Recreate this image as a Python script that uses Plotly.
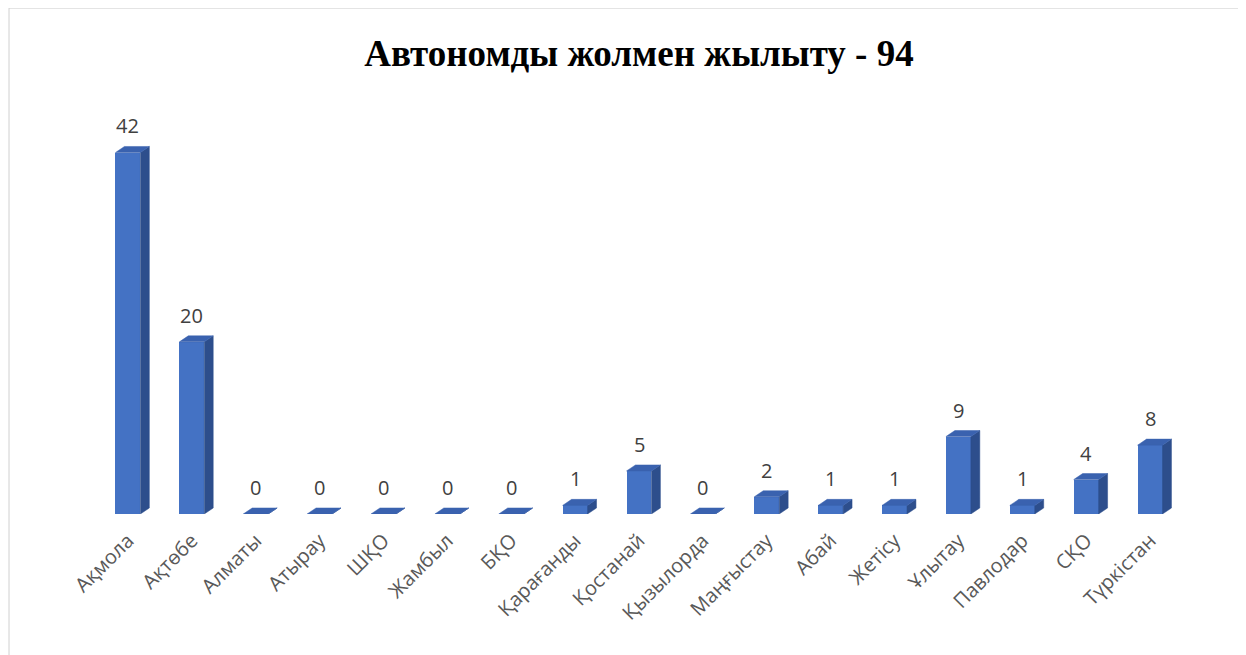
import plotly.graph_objects as go

# ---- data ----
categories = ["Ақмола", "Ақтөбе", "Алматы", "Атырау", "ШҚО", "Жамбыл", "БҚО",
              "Қарағанды", "Қостанай", "Қызылорда", "Маңғыстау", "Абай", "Жетісу",
              "Ұлытау", "Павлодар", "СҚО", "Түркістан"]
values = [42, 20, 0, 0, 0, 0, 0, 1, 5, 0, 2, 1, 1, 9, 1, 4, 8]
title_text = "Автономды жолмен жылыту - 94"

# ---- style constants ----
BAR_W = 0.39      # front face width (category units)
DX = 0.14         # depth offset x (category units)
DY = 0.7          # depth offset y (value units)
FRONT = "#4472C4"
SIDE = "#2D4E8C"
TOP = "#3A62AF"

xs = list(range(len(categories)))

fig = go.Figure()

# front faces
fig.add_trace(go.Bar(x=xs, y=values, width=BAR_W, marker=dict(color=FRONT, line=dict(width=0)),
                     hoverinfo="skip", showlegend=False))

# side faces
sx, sy = [], []
for x, v in zip(xs, values):
    r = x + BAR_W / 2
    sx += [r, r + DX, r + DX, r, r, None]
    sy += [0, DY, v + DY, v, 0, None]
fig.add_trace(go.Scatter(x=sx, y=sy, mode="lines", fill="toself", fillcolor=SIDE,
                         line=dict(color=SIDE, width=0.5), hoverinfo="skip", showlegend=False))

# top faces
tx, ty = [], []
for x, v in zip(xs, values):
    l = x - BAR_W / 2
    r = x + BAR_W / 2
    tx += [l, l + DX, r + DX, r, l, None]
    ty += [v, v + DY, v + DY, v, v, None]
fig.add_trace(go.Scatter(x=tx, y=ty, mode="lines", fill="toself", fillcolor=TOP,
                         line=dict(color=TOP, width=0.5), hoverinfo="skip", showlegend=False))

# value labels
for x, v in zip(xs, values):
    fig.add_annotation(x=x, y=v + DY, text=str(v), showarrow=False, yanchor="bottom",
                       yshift=5, font=dict(family="Open Sans, sans-serif", size=20, color="#404040"))

# outer border (top and left edges visible)
fig.add_shape(type="rect", xref="paper", yref="paper", x0=-0.0801, x1=1.2, y0=-0.5, y1=1.222,
              line=dict(color="#D0D0D0", width=1), fillcolor="rgba(0,0,0,0)", layer="below")

fig.update_layout(
    width=1238, height=647,
    margin=dict(l=88, r=64, t=92, b=141),
    paper_bgcolor="white", plot_bgcolor="white",
    title=dict(text="<b>" + title_text + "</b>", x=0.5, xref="paper", xanchor="center",
               y=1 - 45 / 647, yref="container", yanchor="middle",
               font=dict(family="Liberation Serif, Times New Roman, serif", size=37, color="black")),
    xaxis=dict(range=[-0.5, len(categories) - 0.5], tickmode="array", tickvals=xs,
               ticktext=categories, tickangle=-45, showgrid=False, zeroline=False,
               showline=False, ticks="", ticklabelstandoff=10,
               tickfont=dict(family="Open Sans, sans-serif", size=20, color="#595959")),
    yaxis=dict(range=[0, 48.1], visible=False, showgrid=False, zeroline=False),
    bargap=0,
)

fig.write_html("out.html")
